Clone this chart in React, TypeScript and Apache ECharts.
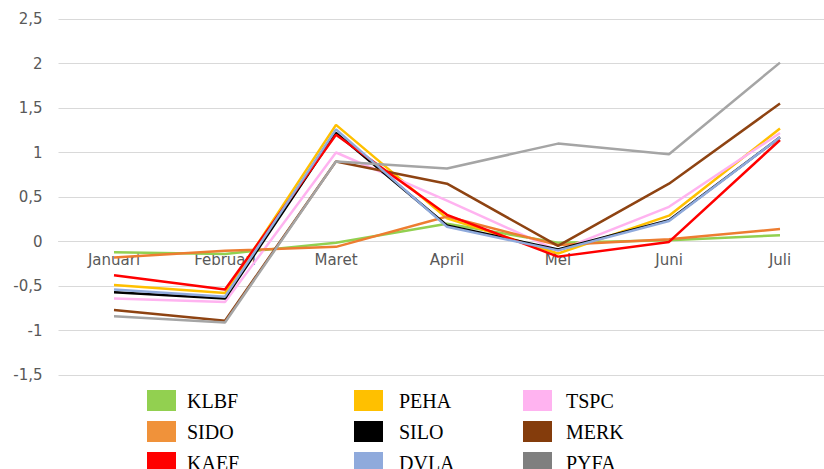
import React, { useEffect, useRef } from "react";
import * as echarts from "echarts";

const months = ["Januari", "Februari", "Maret", "April", "Mei", "Juni", "Juli"];

const KLBF = [-0.12, -0.14, -0.015, 0.2, -0.015, 0.015, 0.07];
const PEHA = [-0.49, -0.58, 1.31, 0.26, -0.135, 0.29, 1.27];
const TSPC = [-0.64, -0.68, 1.0, 0.46, -0.105, 0.39, 1.22];
const SIDO = [-0.18, -0.105, -0.06, 0.28, -0.04, 0.025, 0.14];
const SILO = [-0.57, -0.64, 1.22, 0.18, -0.09, 0.24, 1.17];
const MERK = [-0.77, -0.89, 0.9, 0.65, -0.05, 0.65, 1.55];
const KAEF = [-0.38, -0.54, 1.2, 0.3, -0.17, -0.005, 1.14];
const DVLA = [-0.54, -0.62, 1.26, 0.165, -0.1, 0.23, 1.17];
const PYFA = [-0.84, -0.91, 0.9, 0.82, 1.1, 0.98, 2.01];

const yMin = -1.5;
const yMax = 2.5;
const yStep = 0.5;

const seriesDefs = [
  { name: "KLBF", data: KLBF, color: "#92D050" },
  { name: "PEHA", data: PEHA, color: "#FFC000" },
  { name: "TSPC", data: TSPC, color: "#FFB3F0" },
  { name: "SIDO", data: SIDO, color: "#ED7D31" },
  { name: "SILO", data: SILO, color: "#000000" },
  { name: "MERK", data: MERK, color: "#8E4312" },
  { name: "KAEF", data: KAEF, color: "#FF0000" },
  { name: "DVLA", data: DVLA, color: "#8FAADC" },
  { name: "PYFA", data: PYFA, color: "#A5A5A5" },
];

const legendColumns = [
  { names: ["KLBF", "SIDO", "KAEF"], left: 147, pad: 6 },
  { names: ["PEHA", "SILO", "DVLA"], left: 354, pad: 11 },
  { names: ["TSPC", "MERK", "PYFA"], left: 523, pad: 9 },
];

const legendSwatch: Record<string, string> = {
  PYFA: "#7F7F7F",
  SIDO: "#F0923A",
  MERK: "#843C0C",
};

const CHART_W = 840;
const CHART_H = 500;
const GRID_TOP = 19;
const GRID_BOTTOM_Y = 375;
const GRID_LEFT = 58.5;
const GRID_RIGHT_X = 835.5;

export default function App() {
  const ref = useRef<HTMLDivElement>(null);
  useEffect(() => {
    if (!ref.current) return;
    const chart = echarts.init(ref.current, undefined, { renderer: "svg" });
    const plotH = GRID_BOTTOM_Y - GRID_TOP;
    // place the category axis where y = 0 (Excel "crosses at 0")
    const zeroOffset = -((0 - yMin) / (yMax - yMin)) * plotH;
    chart.setOption({
      animation: false,
      grid: {
        left: GRID_LEFT,
        right: CHART_W - GRID_RIGHT_X,
        top: GRID_TOP,
        bottom: CHART_H - GRID_BOTTOM_Y,
        containLabel: false,
      },
      xAxis: {
        type: "category",
        data: months,
        boundaryGap: true,
        offset: zeroOffset,
        axisLine: { show: true, onZero: false, lineStyle: { color: "#D9D9D9", width: 1 } },
        axisTick: { show: false },
        axisLabel: {
          color: "#595959",
          fontSize: 15,
          fontFamily: "DejaVu Sans",
          margin: 11,
        },
        splitLine: { show: false },
      },
      yAxis: {
        type: "value",
        min: yMin,
        max: yMax,
        interval: yStep,
        axisLine: { show: false },
        axisTick: { show: false },
        axisLabel: {
          color: "#595959",
          fontSize: 15,
          fontFamily: "DejaVu Sans",
          margin: 16,
          formatter: (v: number) => String(v).replace(".", ","),
        },
        splitLine: { lineStyle: { color: "#D9D9D9", width: 1 } },
      },
      legend: legendColumns.map((col) => ({
        data: col.names.map((n) =>
          legendSwatch[n] ? { name: n, itemStyle: { color: legendSwatch[n] } } : { name: n }
        ),
        left: col.left,
        top: 390,
        orient: "vertical",
        icon: "rect",
        itemWidth: 29,
        itemHeight: 21,
        itemGap: 10,
        padding: 0,
        selectedMode: false,
        itemStyle: { borderWidth: 0 },
        textStyle: {
          fontFamily: "Liberation Serif",
          fontSize: 20,
          color: "#000000",
          padding: [0, 0, 0, col.pad],
        },
      })),
      series: seriesDefs.map((s) => ({
        name: s.name,
        type: "line",
        data: s.data,
        symbol: "none",
        color: s.color,
        lineStyle: { color: s.color, width: 2.5 },
        itemStyle: { color: s.color },
        emphasis: { disabled: true },
      })),
    });
    return () => chart.dispose();
  }, []);
  return (
    <div
      style={{
        position: "fixed",
        left: 0,
        top: 0,
        width: 824,
        height: 469,
        overflow: "hidden",
        background: "#fff",
      }}
    >
      <div ref={ref} style={{ width: CHART_W, height: CHART_H }} />
    </div>
  );
}
